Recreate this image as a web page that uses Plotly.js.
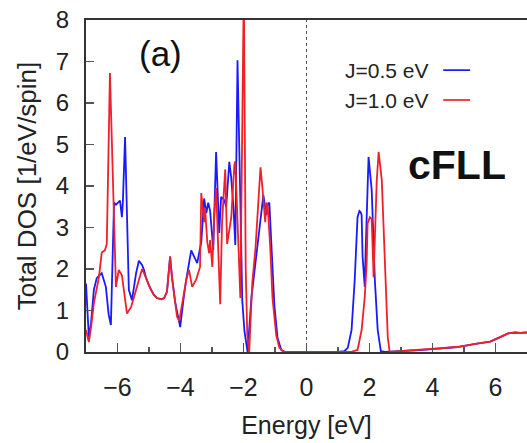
<!DOCTYPE html>
<html>
<head>
<meta charset="utf-8">
<script src="https://cdn.plot.ly/plotly-3.0.1.min.js"></script>
<style>html,body{margin:0;padding:0;background:#fff;}#chart{width:527px;height:443px;}</style>
</head>
<body>
<div id="chart"></div>
<script>
// J = 0.5 eV (blue)
const energyJ05 = [-7.0,-6.95,-6.91,-6.84,-6.75,-6.66,-6.5,-6.37,-6.28,-6.21,-6.11,-6.05,-5.99,-5.92,-5.86,-5.83,-5.76,-5.64,-5.54,-5.41,-5.32,-5.22,-5.16,-5.1,-5.0,-4.94,-4.85,-4.75,-4.6,-4.52,-4.43,-4.33,-4.27,-4.17,-4.01,-3.9,-3.82,-3.66,-3.57,-3.47,-3.38,-3.34,-3.25,-3.18,-3.12,-3.06,-2.99,-2.96,-2.87,-2.77,-2.71,-2.61,-2.55,-2.45,-2.39,-2.32,-2.26,-2.19,-2.08,-2.04,-1.97,-1.87,-1.75,-1.59,-1.5,-1.37,-1.27,-1.24,-1.18,-1.11,-1.02,-0.92,-0.8,-0.67,0.0,1.0,1.2,1.31,1.43,1.53,1.62,1.68,1.72,1.75,1.78,1.85,1.88,1.97,2.07,2.17,2.26,2.36,2.5,2.8,3.0,3.69,4.2,4.78,5.41,5.83,6.15,6.4,6.62,6.78,7.0];
const dosJ05 = [1.65,0.9,0.36,0.7,1.5,1.78,1.9,1.57,0.9,0.65,3.6,3.55,3.6,3.65,3.25,3.6,5.18,1.5,1.25,1.9,2.2,2.1,1.98,1.8,1.6,1.5,1.38,1.3,1.27,1.3,1.45,2.3,1.8,1.2,0.6,1.3,1.73,2.45,2.3,2.14,2.5,2.65,3.7,3.35,3.6,3.4,2.75,2.46,4.82,2.87,3.74,3.66,3.5,4.58,4.2,3.5,2.58,7.03,2.87,1.25,0.5,0.0,1.3,2.33,3.0,3.78,3.3,3.54,3.6,2.5,1.13,0.34,0.05,0.0,0.0,0.0,0.02,0.1,0.53,1.73,3.25,3.4,3.37,3.3,2.3,1.57,2.5,4.7,3.9,1.73,0.53,0.02,0.0,0.01,0.02,0.05,0.08,0.12,0.2,0.25,0.36,0.45,0.47,0.46,0.47];

// J = 1.0 eV (red)
const energyJ10 = [-7.0,-6.91,-6.84,-6.75,-6.59,-6.5,-6.4,-6.34,-6.24,-6.05,-5.96,-5.86,-5.7,-5.57,-5.41,-5.22,-5.1,-5.0,-4.94,-4.85,-4.75,-4.6,-4.52,-4.43,-4.33,-4.27,-4.11,-4.04,-3.82,-3.73,-3.63,-3.5,-3.38,-3.34,-3.28,-3.25,-3.22,-3.15,-3.09,-3.06,-2.99,-2.93,-2.87,-2.74,-2.68,-2.58,-2.52,-2.39,-2.29,-2.26,-2.1,-1.99,-1.93,-1.88,-1.82,-1.72,-1.62,-1.59,-1.46,-1.4,-1.34,-1.31,-1.27,-1.23,-1.15,-1.08,-0.96,-0.86,-0.73,0.0,1.4,1.62,1.75,1.85,1.91,1.94,2.01,2.07,2.1,2.13,2.23,2.29,2.39,2.48,2.58,2.64,2.8,3.0,3.69,4.2,4.78,5.41,5.83,6.15,6.4,6.62,6.78,7.0];
const dosJ10 = [0.53,0.24,0.6,1.18,1.8,2.4,2.45,2.6,6.72,1.57,1.98,1.85,0.93,1.08,1.5,2.0,1.8,1.6,1.5,1.38,1.3,1.27,1.3,1.45,2.3,1.8,0.85,0.75,1.73,1.98,1.57,1.75,2.05,3.83,3.35,3.13,3.47,2.65,2.38,2.7,2.05,3.3,3.95,1.15,3.13,4.4,2.6,3.23,4.5,4.6,1.3,8.8,2.0,0.4,0.0,1.68,2.5,2.9,4.45,3.96,3.47,3.13,3.6,3.5,2.5,1.3,0.4,0.1,0.0,0.0,0.0,0.05,0.53,1.33,2.14,3.1,3.25,3.2,2.53,1.8,4.14,4.82,4.14,2.14,0.36,0.0,0.01,0.02,0.05,0.08,0.12,0.2,0.25,0.36,0.45,0.47,0.46,0.47];

const seriesNames = ['J=0.5 eV', 'J=1.0 eV'];
const seriesColors = ['#1a1aff', '#f0202a'];

const FONT = 'Liberation Sans, Arial, Helvetica, sans-serif';

const traces = [
  {x: energyJ05, y: dosJ05, type: 'scatter', mode: 'lines', name: seriesNames[0],
   line: {color: seriesColors[0], width: 1.8}, showlegend: false},
  {x: energyJ10, y: dosJ10, type: 'scatter', mode: 'lines', name: seriesNames[1],
   line: {color: seriesColors[1], width: 1.8}, showlegend: false}
];

const legX = 0.78, legY = [0.849, 0.759];
const layout = {
  width: 527, height: 443,
  margin: {l: 86, r: 0, t: 20, b: 91},
  paper_bgcolor: '#ffffff', plot_bgcolor: '#ffffff',
  font: {family: FONT, color: '#222'},
  showlegend: false,
  xaxis: {
    range: [-7, 7], tick0: 0, dtick: 2,
    ticks: 'inside', ticklen: 9, tickwidth: 1.5, tickcolor: '#555',
    minor: {dtick: 1, ticks: 'inside', ticklen: 5, tickwidth: 1.5, tickcolor: '#555'},
    showline: true, mirror: true, linewidth: 2, linecolor: '#333',
    showgrid: false, zeroline: false,
    tickfont: {family: FONT, size: 25, color: '#222'},
    ticklabelstandoff: 12,
    title: {text: 'Energy [eV]', font: {family: FONT, size: 25, color: '#222'}, standoff: 16}
  },
  yaxis: {
    range: [0, 8], tick0: 0, dtick: 1,
    ticks: 'inside', ticklen: 8, tickwidth: 1.5, tickcolor: '#555',
    showline: true, mirror: false, linewidth: 2, linecolor: '#333',
    showgrid: false, zeroline: false,
    tickfont: {family: FONT, size: 24, color: '#222'},
    ticklabelstandoff: 10,
    title: {text: 'Total DOS [1/eV/spin]', font: {family: FONT, size: 26, color: '#222'}, standoff: 12}
  },
  shapes: [
    {type: 'line', xref: 'x', yref: 'paper', x0: 0, x1: 0, y0: 0, y1: 1,
     line: {color: '#555', width: 1, dash: 'dot'}},
    {type: 'line', xref: 'paper', yref: 'paper', x0: 0.81, x1: 0.871, y0: legY[0], y1: legY[0],
     line: {color: seriesColors[0], width: 1.7}},
    {type: 'line', xref: 'paper', yref: 'paper', x0: 0.81, x1: 0.871, y0: legY[1], y1: legY[1],
     line: {color: seriesColors[1], width: 1.7}}
  ],
  annotations: [
    {xref: 'paper', yref: 'paper', x: legX, y: legY[0], xanchor: 'right', yanchor: 'middle',
     text: seriesNames[0], showarrow: false, font: {family: FONT, size: 21, color: '#222'}},
    {xref: 'paper', yref: 'paper', x: legX, y: legY[1], xanchor: 'right', yanchor: 'middle',
     text: seriesNames[1], showarrow: false, font: {family: FONT, size: 21, color: '#222'}},
    {xref: 'paper', yref: 'paper', x: 0.17, y: 0.898, xanchor: 'center', yanchor: 'middle',
     text: '(a)', showarrow: false, font: {family: FONT, size: 35, color: '#111'}},
    {xref: 'paper', yref: 'paper', x: 0.841, y: 0.563, xanchor: 'center', yanchor: 'middle',
     text: '<b>cFLL</b>', showarrow: false, font: {family: FONT, size: 41, color: '#111'}}
  ]
};

Plotly.newPlot('chart', traces, layout, {staticPlot: true, displayModeBar: false});
</script>
</body>
</html>
